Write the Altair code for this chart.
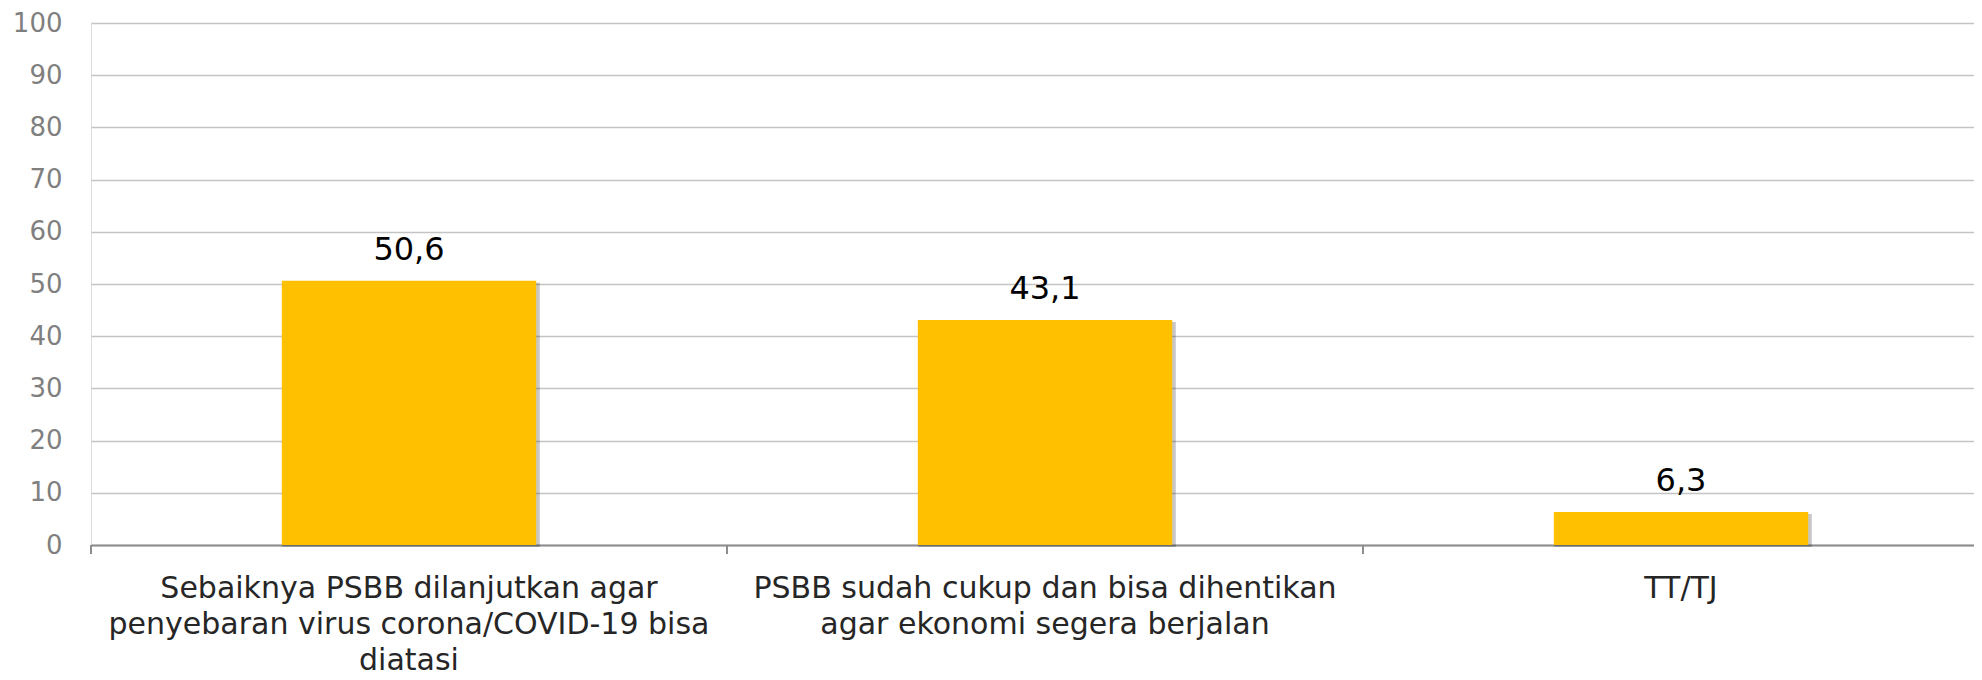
import altair as alt
import pandas as pd

categories = [
    "Sebaiknya PSBB dilanjutkan agar\npenyebaran virus corona/COVID-19 bisa\ndiatasi",
    "PSBB sudah cukup dan bisa dihentikan\nagar ekonomi segera berjalan",
    "TT/TJ",
]
values = [50.6, 43.1, 6.3]
y_ticks = [0, 10, 20, 30, 40, 50, 60, 70, 80, 90, 100]

df = pd.DataFrame({"kategori": categories, "nilai": values})

FONT = "DejaVu Sans"
PLOT_W = 1883
PLOT_H = 522

x_scale = alt.Scale(domain=categories, range=[0, 1908], paddingInner=0, paddingOuter=0)

x_enc = alt.X(
    "kategori:N",
    sort=categories,
    scale=x_scale,
    axis=alt.Axis(
        title=None,
        labelAngle=0,
        labelExpr="split(datum.label, '\\n')",
        labelFont=FONT,
        labelFontSize=30,
        labelColor="#262626",
        labelLineHeight=36,
        labelPadding=28,
        labelLimit=0,
        ticks=False,
        tickSize=0,
        domain=True,
        domainColor="#8C8C8C",
        domainWidth=2,
        grid=False,
    ),
)

y_enc = alt.Y(
    "nilai:Q",
    scale=alt.Scale(domain=[0, 100], nice=False),
    axis=alt.Axis(
        title=None,
        values=y_ticks,
        labelFont=FONT,
        labelFontSize=26,
        labelColor="#7F7F7F",
        labelPadding=29,
        ticks=False,
        tickSize=0,
        domain=False,
        grid=True,
        gridColor="#C4C4C4",
        gridWidth=1.5,
    ),
)

base = alt.Chart(df)

shadow = base.mark_bar(
    color="#000000", opacity=0.22, xOffset=2, yOffset=2,
    width=alt.RelativeBandSize(0.405),
).encode(x=x_enc, y=y_enc)

bars = base.mark_bar(
    color="#FFC000",
    width=alt.RelativeBandSize(0.4),
).encode(x=x_enc, y=y_enc)

labels = base.transform_calculate(
    teks="replace(format(datum.nilai, '.1f'), '.', ',')"
).mark_text(
    font=FONT, fontSize=32, color="#000000", baseline="alphabetic", dy=-21,
).encode(x=x_enc, y=y_enc, text="teks:N")

ticks = base.mark_rule(color="#8C8C8C", strokeWidth=2).encode(
    x=alt.X("kategori:N", sort=categories, scale=x_scale, bandPosition=0),
    y=alt.value(PLOT_H),
    y2=alt.value(PLOT_H + 9),
)

chart = alt.layer(shadow, bars, ticks, labels).properties(
    width=PLOT_W,
    height=PLOT_H,
    autosize=alt.AutoSizeParams(type="none"),
    padding={"left": 83, "top": 15, "right": 0, "bottom": 135},
).configure_view(stroke="transparent", strokeWidth=0).configure(background="white")

chart.save("out.html", embed_options={"renderer": "svg", "actions": False})
